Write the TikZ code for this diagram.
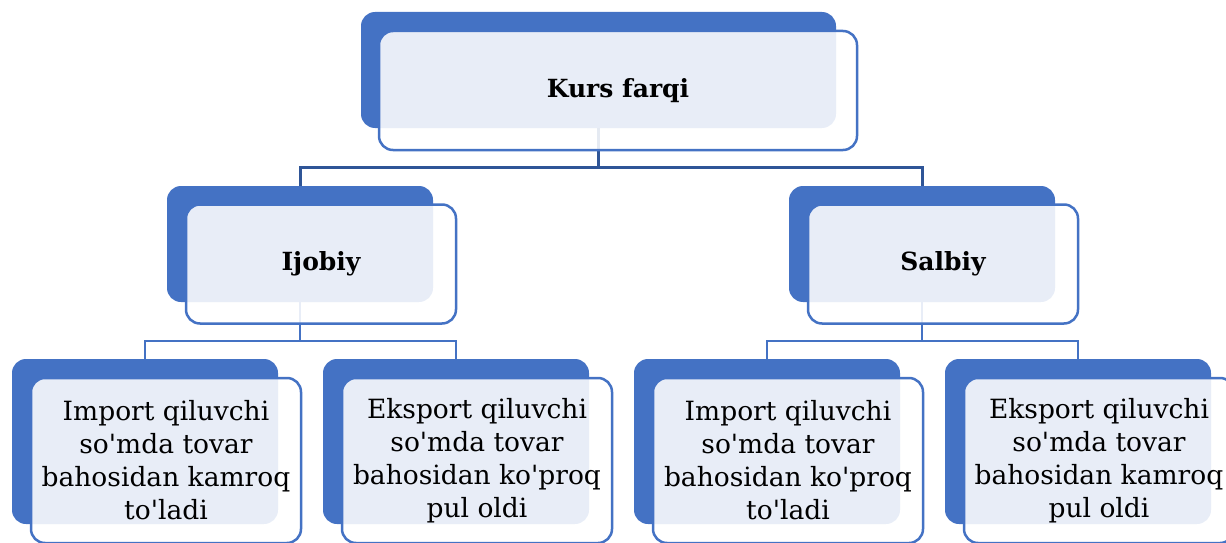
\documentclass[tikz,border=0pt]{standalone}
\usepackage{fontspec}
\setmainfont{DejaVu Serif}[Ligatures=TeXOff]
\usepackage{tikz}
\usetikzlibrary{positioning, calc}
\definecolor{accent}{RGB}{68,114,196}
\definecolor{linkblue}{RGB}{47,85,151}

\begin{document}
\begin{tikzpicture}[x=1pt, y=-1pt,
  back/.style={fill=accent, rounded corners=14pt, minimum width=266pt, minimum height=116pt, inner sep=0pt},
  front/.style={draw=accent, line width=2.5pt, fill=white, fill opacity=0.88, text opacity=1,
    rounded corners=14pt, minimum width=270pt, minimum height=119pt, inner sep=0pt,
    align=center, font=\fontsize{26.5}{33}\selectfont},
  title/.style={font=\bfseries\fontsize{25}{32}\selectfont},
  link/.style={draw=linkblue, line width=3pt},
  sublink/.style={draw=accent, line width=2.5pt}]
  \useasboundingbox (0,0) rectangle (1226,543);
  % back plates
  \node[back, minimum width=475pt] (kb) at (598.5,70) {};
  \node[back] (jb) at (300,244) {};
  \node[back] (sb) at (922,244) {};
  \node[back, minimum height=165pt] (c1b) at (145,441.5) {};
  \node[back, minimum height=165pt] (c2b) at (456,441.5) {};
  \node[back, minimum height=165pt] (c3b) at (767,441.5) {};
  \node[back, minimum height=165pt] (c4b) at (1078,441.5) {};
  % connectors
  \draw[link] (kb.south) -- ++(0,39) -| (jb.north);
  \draw[link] (kb.south) -- ++(0,39) -| (sb.north);
  \draw[sublink] (jb.south) -- ++(0,39) -| (c1b.north);
  \draw[sublink] (jb.south) -- ++(0,39) -| (c2b.north);
  \draw[sublink] (sb.south) -- ++(0,39) -| (c3b.north);
  \draw[sublink] (sb.south) -- ++(0,39) -| (c4b.north);
  % front plates with texts
  \node[front, title, minimum width=478pt] (kurs) at ($(kb)+(19.5,20.5)$) {Kurs farqi};
  \node[front, title] (ijobiy) at ($(jb)+(21,20)$) {Ijobiy};
  \node[front, title] (salbiy) at ($(sb)+(21,20)$) {Salbiy};
  \node[front, minimum height=165pt] (c1) at ($(c1b)+(21,19)$)
    {Import qiluvchi\\so'mda tovar\\bahosidan kamroq\\to'ladi};
  \node[front, minimum height=165pt] (c2) at ($(c2b)+(21,19)$)
    {Eksport qiluvchi\\so'mda tovar\\bahosidan ko'proq\\pul oldi};
  \node[front, minimum height=165pt] (c3) at ($(c3b)+(21,19)$)
    {Import qiluvchi\\so'mda tovar\\bahosidan ko'proq\\to'ladi};
  \node[front, minimum height=165pt] (c4) at ($(c4b)+(21,19)$)
    {Eksport qiluvchi\\so'mda tovar\\bahosidan kamroq\\pul oldi};
\end{tikzpicture}
\end{document}
